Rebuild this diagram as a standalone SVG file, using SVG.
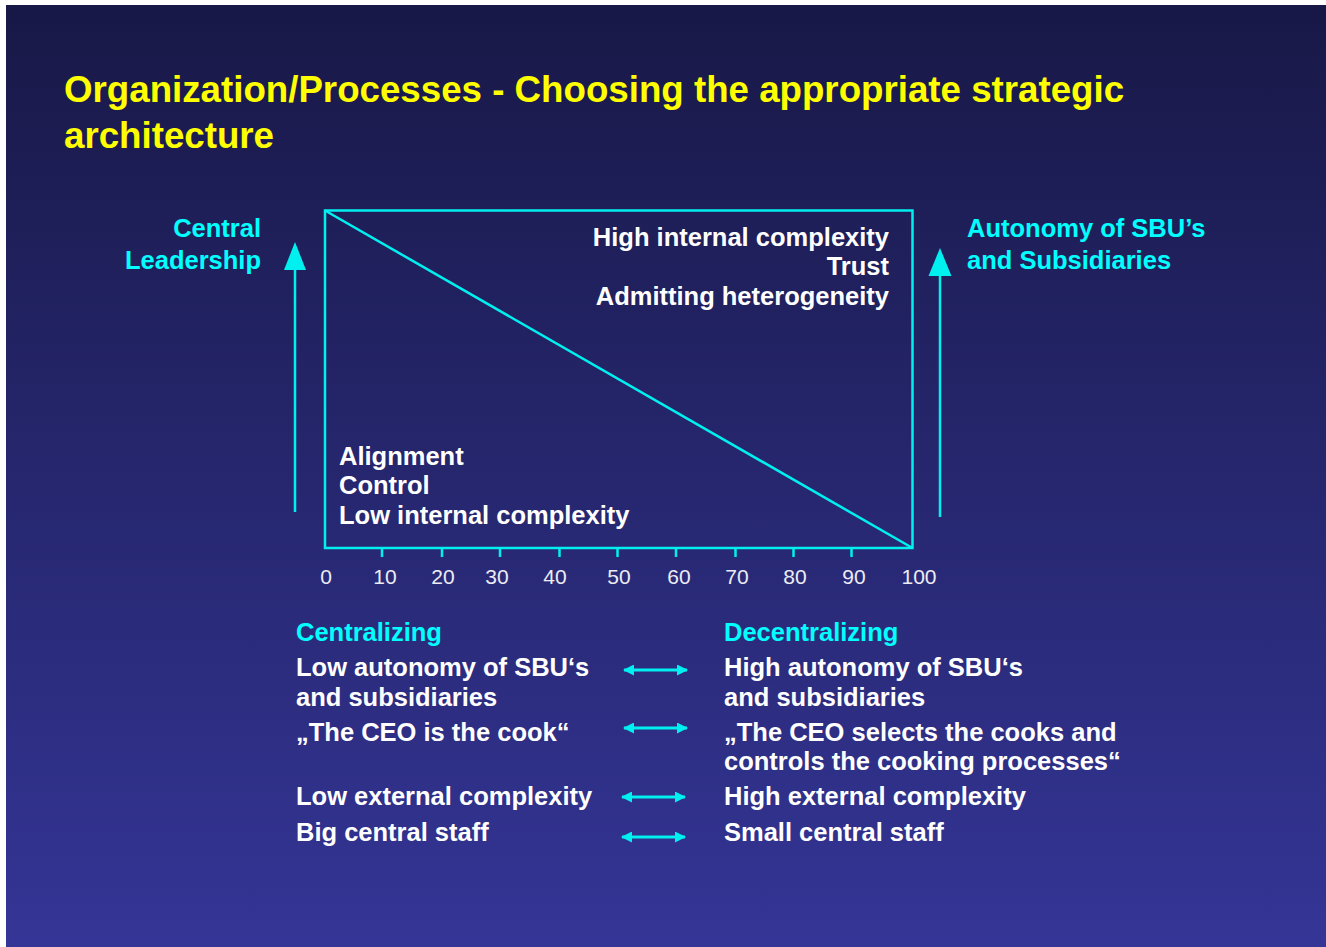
<svg xmlns="http://www.w3.org/2000/svg" width="1326" height="947" viewBox="0 0 1326 947">
<defs>
<linearGradient id="bg" x1="0" y1="0" x2="0" y2="1">
<stop offset="0" stop-color="#181847"/>
<stop offset="1" stop-color="#343596"/>
</linearGradient>
<marker id="ah" viewBox="0 0 11 11" refX="10" refY="5.5" markerWidth="11" markerHeight="11" markerUnits="userSpaceOnUse" orient="auto-start-reverse">
<path d="M0,0 L11,5.5 L0,11 Z" fill="#00f0f0"/>
</marker>
</defs>
<style>
text{font-family:"Liberation Sans",Arial,sans-serif;font-weight:bold;font-size:25.5px}
.t{fill:#ffff00;font-size:36.7px}
.c{fill:#00ffff}
.w{fill:#ffffff}
.n{fill:#ececf4;font-weight:normal;font-size:21px;text-anchor:middle}
.ln{stroke:#00f0f0;stroke-width:2.5;fill:none}
.da{stroke:#00f0f0;stroke-width:3;fill:none}
.hd{fill:#00f0f0}
</style>
<rect x="0" y="0" width="1326" height="947" fill="#ffffff"/>
<rect x="6" y="5" width="1320" height="942" fill="url(#bg)"/>
<g id="title">
<text class="t" x="64" y="102">Organization/Processes - Choosing the appropriate strategic</text>
<text class="t" x="64" y="148">architecture</text>
</g>
<g id="chart">
<rect class="ln" x="325" y="210.5" width="587.5" height="337.5"/>
<line class="ln" x1="325" y1="210.5" x2="912.5" y2="548"/>
<g class="ln">
<line x1="382" y1="548" x2="382" y2="557"/>
<line x1="442" y1="548" x2="442" y2="557"/>
<line x1="500" y1="548" x2="500" y2="557"/>
<line x1="559.5" y1="548" x2="559.5" y2="557"/>
<line x1="617.5" y1="548" x2="617.5" y2="557"/>
<line x1="676" y1="548" x2="676" y2="557"/>
<line x1="735.5" y1="548" x2="735.5" y2="557"/>
<line x1="793.5" y1="548" x2="793.5" y2="557"/>
<line x1="851.5" y1="548" x2="851.5" y2="557"/>
</g>
<g id="axis-labels">
<text class="n" x="326" y="584">0</text>
<text class="n" x="385" y="584">10</text>
<text class="n" x="443" y="584">20</text>
<text class="n" x="497" y="584">30</text>
<text class="n" x="555" y="584">40</text>
<text class="n" x="619" y="584">50</text>
<text class="n" x="679" y="584">60</text>
<text class="n" x="737" y="584">70</text>
<text class="n" x="795" y="584">80</text>
<text class="n" x="854" y="584">90</text>
<text class="n" x="919" y="584">100</text>
</g>
</g>
<g id="top-right-text" text-anchor="end">
<text class="w" x="889" y="246">High internal complexity</text>
<text class="w" x="889" y="275">Trust</text>
<text class="w" x="889" y="305">Admitting heterogeneity</text>
</g>
<g id="bottom-left-text">
<text class="w" x="339" y="465">Alignment</text>
<text class="w" x="339" y="494">Control</text>
<text class="w" x="339" y="524">Low internal complexity</text>
</g>
<g id="central-leadership" text-anchor="end">
<text class="c" x="261" y="237">Central</text>
<text class="c" x="261" y="269">Leadership</text>
</g>
<g id="autonomy">
<text class="c" x="967" y="237">Autonomy of SBU’s</text>
<text class="c" x="967" y="269">and Subsidiaries</text>
</g>
<g id="connectors">
<line x1="295" y1="512" x2="295" y2="268" stroke="#00f0f0" stroke-width="2.5"/>
<polygon class="hd" points="295,242 306,270 284,270"/>
<line x1="940" y1="517" x2="940" y2="273" stroke="#00f0f0" stroke-width="2.5"/>
<polygon class="hd" points="940,248 951.5,276 928.5,276"/>
<line class="da" x1="624" y1="670" x2="687" y2="670" marker-start="url(#ah)" marker-end="url(#ah)"/>
<line class="da" x1="624" y1="728" x2="687" y2="728" marker-start="url(#ah)" marker-end="url(#ah)"/>
<line class="da" x1="622" y1="797" x2="685" y2="797" marker-start="url(#ah)" marker-end="url(#ah)"/>
<line class="da" x1="622" y1="837" x2="685" y2="837" marker-start="url(#ah)" marker-end="url(#ah)"/>
</g>
<g id="centralizing">
<text class="c" x="296" y="641">Centralizing</text>
<text class="w" x="296" y="676">Low autonomy of SBU‘s</text>
<text class="w" x="296" y="706">and subsidiaries</text>
<text class="w" x="296" y="741">„The CEO is the cook“</text>
<text class="w" x="296" y="805">Low external complexity</text>
<text class="w" x="296" y="841">Big central staff</text>
</g>
<g id="decentralizing">
<text class="c" x="724" y="641">Decentralizing</text>
<text class="w" x="724" y="676">High autonomy of SBU‘s</text>
<text class="w" x="724" y="706">and subsidiaries</text>
<text class="w" x="724" y="741">„The CEO selects the cooks and</text>
<text class="w" x="724" y="770">controls the cooking processes“</text>
<text class="w" x="724" y="805">High external complexity</text>
<text class="w" x="724" y="841">Small central staff</text>
</g>
</svg>
